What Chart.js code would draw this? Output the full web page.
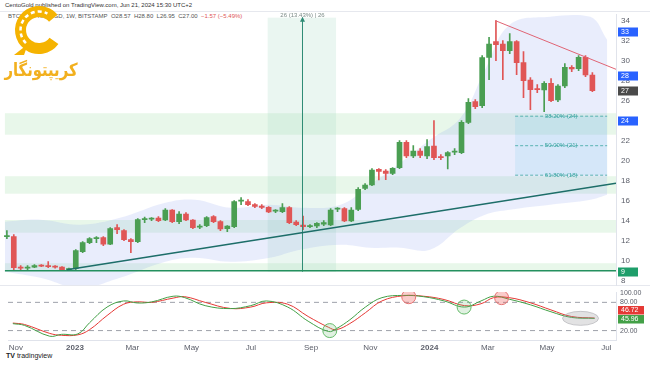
<!DOCTYPE html>
<html>
<head>
<meta charset="utf-8">
<script src="https://cdn.jsdelivr.net/npm/chart.js@4.4.1/dist/chart.umd.min.js"></script>
<style>
  html, body { margin: 0; padding: 0; background: #fff; }
  #wrap { position: relative; width: 650px; height: 365px; overflow: hidden; font-family: "Liberation Sans", Arial, sans-serif; }
  #main { position: absolute; left: 0; top: 0; }
  #osc { position: absolute; left: 0; top: 284px; }
  .hdr { position: absolute; white-space: nowrap; font-size: 6px; color: #333; }
  .sep { position: absolute; background: #e6e8ee; }
  #tv { position: absolute; left: 6px; top: 352px; font-size: 7px; color: #222; }
</style>
</head>
<body>
<div id="wrap">
  <div class="hdr" style="left:5px;top:2px;">CentoGold published on TradingView.com, Jun 21, 2024 15:30 UTC+2</div>
  <div class="hdr" style="left:8px;top:13px;color:#555;">BTCUSD / XAUUSD, 1W, BITSTAMP&nbsp; O28.57&nbsp; H28.80&nbsp; L26.95&nbsp; C27.00&nbsp; <span style="color:#e05656">−1.57 (−5.49%)</span></div>
  <div class="sep" style="left:0;top:11px;width:650px;height:1px;"></div>
  <div class="sep" style="left:0;top:285px;width:650px;height:1px;"></div>
  <div id="tv"><b>TV</b> tradingview</div>
  <canvas id="main" width="650" height="290"></canvas>
  <canvas id="osc" width="650" height="72"></canvas>
</div>
<script>
// weekly candles, BTC priced in gold, first week starts Oct 31 2022
const opens = [12.4,12.4,9.3,9.25,9.35,9.5,9.45,9.4,9.35,9.1,
  9.2,10.9,11.8,12.2,12.3,11.65,13.3,13.0,12.1,11.9,
  14.1,14.15,14.27,14.07,15.07,13.9,14.67,14.07,13.35,13.5,
  14.4,13.9,13.2,13.4,15.95,15.9,15.6,15.47,15.33,14.95,
  14.9,15.3,13.87,13.57,13.4,13.47,13.65,13.57,15.15,15.2,
  13.97,15.14,17.24,17.57,19.14,18.97,18.74,19.3,21.84,20.47,
  20.97,20.47,21.47,20.4,20.47,20.85,20.8,23.84,25.9,25.5,
  30.34,31.9,31.67,31.0,31.9,29.8,28.07,27.2,27.07,27.74,
  26.07,27.47,29.34,29.2,30.34,28.57];
const highs = [13.0,12.6,9.5,9.5,9.6,9.6,9.9,9.5,9.4,9.25,
  11.1,11.9,12.3,12.4,12.4,13.3,13.6,13.1,12.2,14.2,
  14.35,14.3,14.4,15.2,15.1,14.9,14.8,14.1,13.6,14.4,
  14.5,14.0,13.5,16.0,16.3,16.1,15.7,15.6,15.4,15.1,
  15.7,15.4,14.0,14.47,13.6,13.8,14.0,15.2,15.3,15.3,
  15.3,17.3,17.7,19.2,19.2,19.1,19.3,22.0,22.0,21.5,
  21.2,22.1,24.0,20.6,20.9,21.2,24.0,26.2,26.1,30.5,
  32.34,34.0,32.0,32.7,32.0,30.9,28.3,27.6,27.9,28.2,
  27.6,29.7,29.5,30.5,30.5,28.8];
const lows = [12.2,9.1,9.0,9.1,9.3,9.4,9.3,9.25,9.0,9.0,
  9.1,10.8,11.7,11.8,11.5,11.6,12.7,12.0,10.8,11.8,
  13.8,14.0,13.9,14.0,13.8,13.7,14.0,13.2,13.2,13.4,
  13.8,13.0,12.9,13.3,15.6,15.5,15.3,15.2,14.8,14.8,
  14.8,13.7,13.5,13.1,13.3,13.3,13.5,13.5,14.9,13.9,
  13.9,15.0,17.1,17.5,18.07,18.1,18.6,19.2,20.3,20.3,
  20.3,20.2,20.1,20.1,19.17,20.6,20.7,23.7,25.2,25.3,
  28.1,30.0,28.1,30.7,28.6,26.3,25.1,26.8,24.9,25.9,
  25.9,27.3,28.9,29.0,28.4,26.9];
const closes = [12.5,9.3,9.25,9.35,9.5,9.45,9.4,9.35,9.1,9.2,
  11.0,11.8,12.2,12.2,11.65,13.2,13.1,12.1,11.9,14.1,
  14.15,14.2,14.0,15.07,13.9,14.67,14.07,13.3,13.45,14.3,
  13.9,13.17,13.47,15.9,16.0,15.6,15.44,15.33,14.87,15.0,
  15.3,13.8,13.6,13.4,13.47,13.74,13.8,15.07,15.2,13.97,
  15.07,17.14,17.57,19.07,18.94,18.74,19.24,21.84,20.47,20.97,
  20.54,21.4,20.3,20.3,20.8,20.9,23.84,25.84,25.4,30.3,
  31.67,31.6,31.0,31.9,29.8,28.0,27.1,27.1,27.74,26.0,
  27.47,29.34,29.17,30.34,28.57,27.0];

// x values are days from Jan 1 2023
const monthTickDays = [-61, 0, 59, 120, 181, 243, 304, 365, 425, 486, 547];
const monthLabels = ['Nov', '2023', 'Mar', 'May', 'Jul', 'Sep', 'Nov', '2024', 'Mar', 'May', 'Jul'];
const priceTicks = [8, 10, 12, 14, 16, 18, 20, 22, 24, 26, 28, 30, 32, 34];

// shaded cloud behind price
const cloudDays = [-64, -28, 12, 53, 99, 129, 165, 205, 236, 277, 307, 338, 368, 399, 424, 449, 490, 531, 548];
const cloudUpper = [13.9, 14.1, 13.6, 14.3, 15.8, 16.1, 15.3, 15.6, 15.3, 15.6, 17.6, 19.8, 22.1, 24.3, 29.1, 33.6, 34.4, 34.4, 32.1];
const cloudLower = [8.9, 8.3, 7.3, 8.3, 9.9, 10.3, 9.9, 10.3, 11.1, 11.6, 11.3, 11.3, 11.1, 13.3, 14.6, 15.1, 15.6, 16.1, 16.6];

// drawings
const zoneStartDay = -64;
const greenZones = [[22.6, 24.75], [16.7, 18.45], [12.8, 14.07], [9.0, 9.75]];
const supportLevel = 9.0;
const trendDays = [-1, 557];
const trendValues = [9.1, 17.74];
const resistDays = [434.5, 557];
const resistValues = [34.0, 29.14];
const fibDays = [454.5, 548];
const fibLevels = [24.45, 21.5, 18.55];
const fibLabels = ['38.20% (24)', '50.00% (21)', '61.80% (18)'];
const rangeDays = [203, 272.5];
const rangeLineDay = 238.4;
const rangeValues = [8.9, 34.3];
const rangeLabel = '26 (13.43%) | 26';
const tagValues = [32.87, 28.47, 26.97, 23.97, 8.87];
const tagTexts = ['33', '28', '27', '24', '9'];

// stochastic RSI pane
const stochDays = [-64, -52, -26, -14, 3, 15, 33, 50, 64, 79, 101, 113, 134, 160, 181, 197, 219, 240, 261, 269, 283, 299, 316, 338, 359, 380, 401, 418, 431, 447, 469, 490, 511, 535];
const kValues = [34.7, 31, 8, 12, 13, 36.7, 70, 83, 78.7, 81, 93, 90, 73, 66.7, 73, 83, 70, 40, 18, 24, 43, 70, 90, 94.7, 92, 83, 70, 83, 93, 86.7, 74.7, 60, 48, 46];
const dValues = [36, 33, 14, 10, 11, 22, 52, 76, 81, 80, 89, 92, 80, 67, 70, 79, 76, 50, 27, 22, 35, 58, 83, 94, 93, 86, 73, 77, 90, 90, 79, 64, 50, 46.7];
const stochTicks = [20, 80, 100];
const redMarkDays = [343.6, 439.2];
const redMarkValues = [92, 90];
const greenMarkDays = [262.3, 400.6];
const greenMarkValues = [20, 70];
const flatMarkDay = 520.5;
const flatMarkValue = 46;
const lastK = '45.96', lastD = '46.72';

const UP = '#4a9e52', DOWN = '#e05656';
const DAY = 864e5;
const firstWeek = (Date.UTC(2022, 9, 31) - Date.UTC(2023, 0, 1)) / DAY;
const weekDays = opens.map((_, i) => firstWeek + 7 * i);
const candleColors = opens.map((o, i) => closes[i] >= o ? UP : DOWN);
const pts = (xs, ys) => xs.map((x, i) => ({ x: x, y: ys[i] }));
const X_MIN = -69, X_MAX = 557;

const lineDs = (data, color, width, extra) => Object.assign({
  type: 'line', data: data, borderColor: color, borderWidth: width,
  pointRadius: 0, fill: false, order: 1
}, extra || {});

const mainDecor = {
  id: 'mainDecor',
  beforeDatasetsDraw(chart) {
    const { ctx, chartArea: a, scales: { x, y } } = chart;
    ctx.save();
    ctx.beginPath(); ctx.rect(a.left, a.top, a.right - a.left, a.bottom - a.top); ctx.clip();
    ctx.fillStyle = 'rgba(120,210,130,0.17)';
    const x0 = x.getPixelForValue(zoneStartDay);
    greenZones.forEach(z => {
      const t = y.getPixelForValue(z[1]), b = y.getPixelForValue(z[0]);
      ctx.fillRect(x0, t, a.right - x0, b - t);
    });
    // date range box
    const r0 = x.getPixelForValue(rangeDays[0]), r1 = x.getPixelForValue(rangeDays[1]);
    const rt = y.getPixelForValue(rangeValues[1]), rb = y.getPixelForValue(rangeValues[0]);
    ctx.fillStyle = 'rgba(160,215,190,0.22)';
    ctx.fillRect(r0, rt, r1 - r0, rb - rt);
    // fib box
    const f0 = x.getPixelForValue(fibDays[0]), f1 = x.getPixelForValue(fibDays[1]);
    const ft = y.getPixelForValue(fibLevels[0]), fb = y.getPixelForValue(fibLevels[2]);
    ctx.fillStyle = 'rgba(80,200,225,0.14)';
    ctx.fillRect(f0, ft, f1 - f0, fb - ft);
    ctx.restore();
  },
  afterDatasetsDraw(chart) {
    const { ctx, chartArea: a, scales: { x, y } } = chart;
    ctx.save();
    // arrow of date range line
    const lx = x.getPixelForValue(rangeLineDay), ly = y.getPixelForValue(rangeValues[1]);
    ctx.fillStyle = '#2e8b75';
    ctx.beginPath(); ctx.moveTo(lx, ly - 1); ctx.lineTo(lx - 2.5, ly + 4); ctx.lineTo(lx + 2.5, ly + 4); ctx.fill();
    ctx.font = '6px "Liberation Sans"';
    ctx.fillStyle = '#7a8a86';
    ctx.textAlign = 'center'; ctx.textBaseline = 'middle';
    ctx.fillText(rangeLabel, lx, 15);
    // fib labels
    ctx.fillStyle = '#3aa5a0';
    const fc = (x.getPixelForValue(fibDays[0]) + x.getPixelForValue(fibDays[1])) / 2;
    fibLevels.forEach((v, i) => ctx.fillText(fibLabels[i], fc, y.getPixelForValue(v)));
    // tags on price axis
    const tagColors = ['#2962ff', '#2962ff', '#4a4a4a', '#2962ff', '#1e9e6a'];
    ctx.font = '7px "Liberation Sans"';
    tagValues.forEach((v, i) => {
      const py = y.getPixelForValue(v);
      ctx.fillStyle = tagColors[i];
      ctx.fillRect(a.right + 2, py - 4.5, 20, 9);
      ctx.fillStyle = '#fff';
      ctx.textAlign = 'left';
      ctx.fillText(tagTexts[i], a.right + 5, py + 0.5);
    });
    ctx.restore();
  },
  afterDraw(chart) {
    // watermark logo
    const ctx = chart.ctx;
    ctx.save();
    ctx.strokeStyle = '#f5b301';
    ctx.lineWidth = 11;
    ctx.beginPath(); ctx.arc(39, 30, 18.5, 0.2 * Math.PI, 1.78 * Math.PI); ctx.stroke();
    ctx.strokeStyle = '#ffffff';
    ctx.lineWidth = 2.5;
    ctx.setLineDash([4, 3]);
    ctx.beginPath(); ctx.arc(39, 30, 18.5, 0.75 * Math.PI, 1.65 * Math.PI); ctx.stroke();
    ctx.setLineDash([]);
    ctx.fillStyle = '#f5b301';
    ctx.beginPath(); ctx.moveTo(14, 55); ctx.lineTo(28, 44); ctx.lineTo(24, 55); ctx.fill();
    ctx.font = 'bold 18px "DejaVu Sans"';
    ctx.direction = 'rtl';
    ctx.textAlign = 'center';
    ctx.textBaseline = 'alphabetic';
    const txt = 'کریپتونگار';
    const w = ctx.measureText(txt).width;
    ctx.translate(41, 76);
    ctx.scale(73 / w, 1);
    ctx.fillStyle = '#f2b01e';
    ctx.fillText(txt, 0, 0);
    ctx.restore();
  }
};

new Chart(document.getElementById('main'), {
  type: 'bar',
  data: {
    datasets: [
      lineDs(pts(cloudDays, cloudUpper), 'rgba(0,0,0,0)', 0, { fill: '+1', backgroundColor: 'rgba(125,150,235,0.17)', tension: 0.4, order: 10 }),
      lineDs(pts(cloudDays, cloudLower), 'rgba(0,0,0,0)', 0, { tension: 0.4, order: 11 }),
      { type: 'bar', data: weekDays.map((d, i) => ({ x: d, y: [lows[i], highs[i]] })), backgroundColor: candleColors, barThickness: 1, grouped: false, order: 5 },
      { type: 'bar', data: weekDays.map((d, i) => ({ x: d, y: [opens[i], closes[i]] })), backgroundColor: candleColors, barThickness: 5, minBarLength: 1, grouped: false, order: 4 },
      lineDs(pts(trendDays, trendValues), '#1d6e69', 1.6),
      lineDs([{ x: zoneStartDay, y: supportLevel }, { x: X_MAX, y: supportLevel }], '#24905f', 1.5),
      lineDs(pts(resistDays, resistValues), '#e06474', 1),
      ...fibLevels.map(v => lineDs([{ x: fibDays[0], y: v }, { x: fibDays[1], y: v }], '#3aa5a0', 0.8, { borderDash: [3, 2] })),
      lineDs([{ x: rangeLineDay, y: rangeValues[0] }, { x: rangeLineDay, y: rangeValues[1] }], '#2e8b75', 1)
    ]
  },
  options: {
    responsive: false,
    animation: false,
    layout: { padding: { top: 14, left: 0, right: 0, bottom: 0 } },
    plugins: { legend: { display: false }, tooltip: { enabled: false } },
    scales: {
      x: { type: 'linear', min: X_MIN, max: X_MAX, display: false, offset: false },
      y: {
        position: 'right', min: 7.55, max: 34.67,
        afterBuildTicks: s => { s.ticks = priceTicks.map(v => ({ value: v })); },
        afterFit: s => { s.width = 34; },
        grid: { display: false, drawTicks: true, tickLength: 5 },
        border: { color: '#e0e3eb' },
        ticks: { color: '#5d606b', font: { size: 8, family: 'Liberation Sans' }, padding: 0 }
      }
    }
  },
  plugins: [mainDecor]
});

const oscDecor = {
  id: 'oscDecor',
  afterDatasetsDraw(chart) {
    const { ctx, chartArea: a, scales: { x, y } } = chart;
    ctx.save();
    const ex = x.getPixelForValue(flatMarkDay), ey = y.getPixelForValue(flatMarkValue);
    ctx.fillStyle = 'rgba(150,150,155,0.28)';
    ctx.strokeStyle = 'rgba(170,170,175,0.6)';
    ctx.beginPath(); ctx.ellipse(ex, ey, 18, 7, 0, 0, 2 * Math.PI); ctx.fill(); ctx.stroke();
    // last value tags
    ctx.font = '7px "Liberation Sans"';
    ctx.textBaseline = 'middle'; ctx.textAlign = 'left';
    const py = y.getPixelForValue(Number(lastD));
    ctx.fillStyle = '#e53935'; ctx.fillRect(a.right + 2, py - 12, 26, 8.5);
    ctx.fillStyle = '#43a047'; ctx.fillRect(a.right + 2, py - 3, 26, 8.5);
    ctx.fillStyle = '#fff';
    ctx.fillText(lastD, a.right + 5, py - 7.5);
    ctx.fillText(lastK, a.right + 5, py + 1.5);
    ctx.restore();
  }
};

new Chart(document.getElementById('osc'), {
  type: 'line',
  data: {
    datasets: [
      lineDs([{ x: X_MIN, y: 80 }, { x: X_MAX, y: 80 }], '#9ea1aa', 1, { borderDash: [5, 4], order: 5 }),
      lineDs([{ x: X_MIN, y: 20 }, { x: X_MAX, y: 20 }], '#9ea1aa', 1, { borderDash: [5, 4], order: 5 }),
      lineDs(pts(stochDays, dValues), '#e53935', 1, { tension: 0.4, order: 3 }),
      lineDs(pts(stochDays, kValues), '#43a047', 1, { tension: 0.4, order: 2 }),
      { type: 'line', data: pts(redMarkDays, redMarkValues), showLine: false, pointRadius: 7, pointBackgroundColor: 'rgba(239,83,80,0.3)', pointBorderColor: '#e57373', pointBorderWidth: 1, order: 1 },
      { type: 'line', data: pts(greenMarkDays, greenMarkValues), showLine: false, pointRadius: 7, pointBackgroundColor: 'rgba(102,187,106,0.2)', pointBorderColor: '#66bb6a', pointBorderWidth: 1, order: 1 }
    ]
  },
  options: {
    responsive: false,
    animation: false,
    layout: { padding: { top: 5, left: 0, right: 0, bottom: 0 } },
    plugins: { legend: { display: false }, tooltip: { enabled: false } },
    scales: {
      x: {
        type: 'linear', min: X_MIN, max: X_MAX,
        afterBuildTicks: s => { s.ticks = monthTickDays.map(v => ({ value: v })); },
        afterFit: s => { s.height = 16; },
        grid: { display: false, drawTicks: false },
        border: { color: '#e0e3eb' },
        ticks: {
          autoSkip: false, maxRotation: 0, padding: 3, color: '#5d606b',
          font: c => ({ size: 8, family: 'Liberation Sans', weight: monthLabels[c.index] && monthLabels[c.index].startsWith('20') ? 'bold' : 'normal' }),
          callback: (v, i) => monthLabels[i]
        }
      },
      y: {
        position: 'right', min: 0, max: 102,
        afterBuildTicks: s => { s.ticks = stochTicks.map(v => ({ value: v })); },
        afterFit: s => { s.width = 34; },
        grid: { display: false, drawTicks: true, tickLength: 4 },
        border: { color: '#e0e3eb' },
        ticks: { color: '#5d606b', font: { size: 7, family: 'Liberation Sans' }, padding: 0, callback: v => v.toFixed(2) }
      }
    }
  },
  plugins: [oscDecor]
});
</script>
</body>
</html>
